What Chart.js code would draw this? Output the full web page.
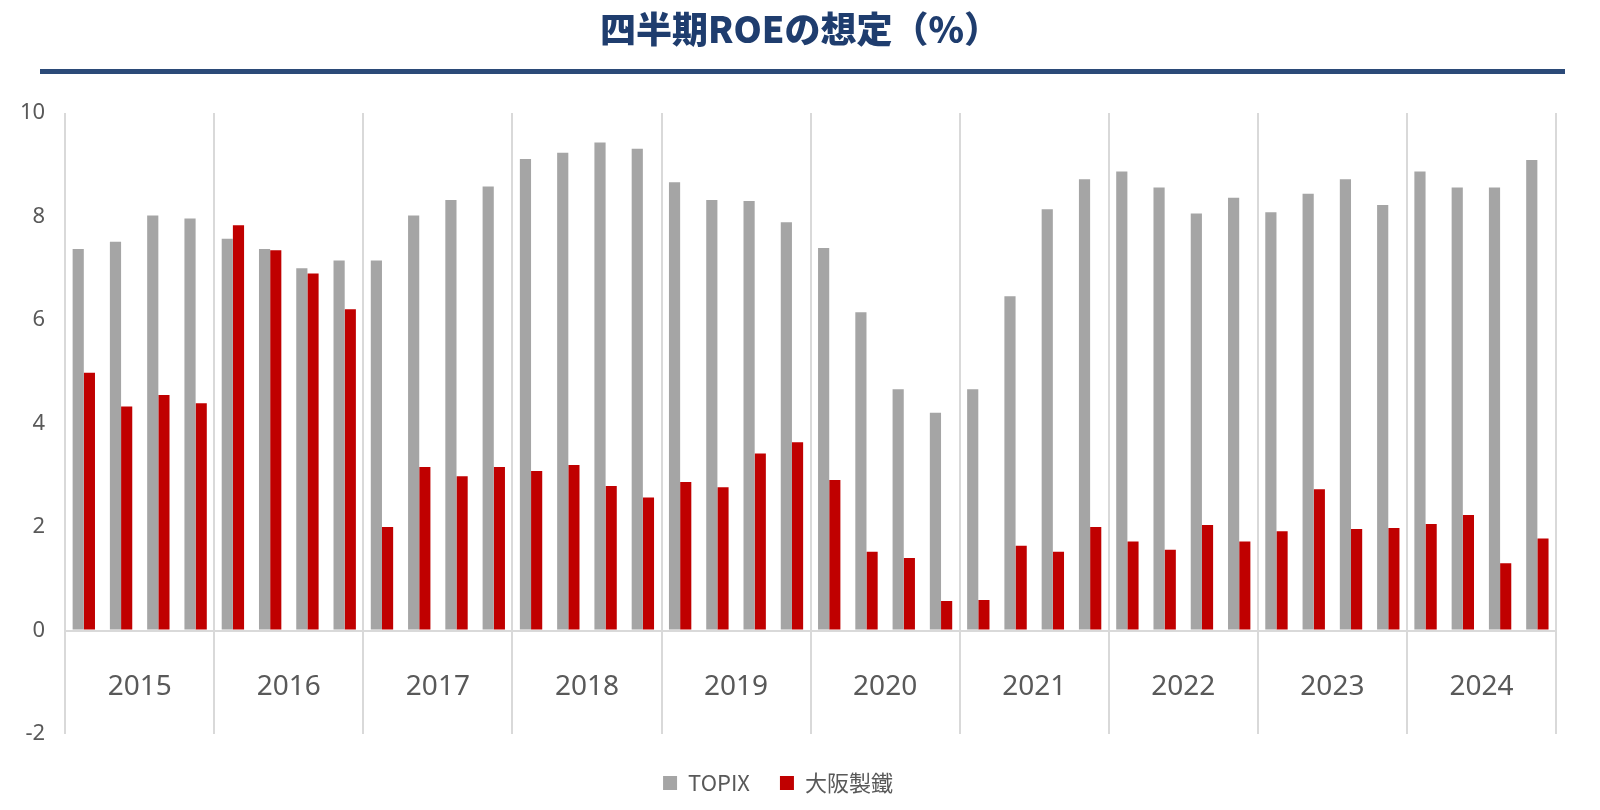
<!DOCTYPE html>
<html><head><meta charset="utf-8">
<script src="https://cdn.jsdelivr.net/npm/chart.js@4"></script>
<style>
html,body{margin:0;padding:0}
body{width:1600px;height:810px;background:#fff;font-family:"Noto Sans CJK JP","Noto Sans",sans-serif;overflow:hidden;position:relative}
#title{position:absolute;top:2px;left:0;width:1600px;text-align:center;font-size:36px;font-weight:900;color:#1F3D6E;line-height:50px}
#rule{position:absolute;top:69px;left:40px;width:1525px;height:5px;background:#2B4A78}
#c{position:absolute;top:0;left:0}
</style></head><body>
<canvas id="c" width="1600" height="810"></canvas>
<div id="title">四半期ROEの想定（%）</div>
<div id="rule"></div>
<script>
const years = ['2015','2016','2017','2018','2019','2020','2021','2022','2023','2024'];
const quarters = [];
for (const y of years) for (let q = 1; q <= 4; q++) quarters.push(y + 'Q' + q);

const topix = [
  7.37, 7.51, 8.02, 7.96,
  7.57, 7.37, 7.00, 7.15,
  7.15, 8.02, 8.32, 8.58,
  9.11, 9.23, 9.43, 9.31,
  8.66, 8.32, 8.30, 7.89,
  7.39, 6.15, 4.66, 4.21,
  4.66, 6.46, 8.14, 8.72,
  8.87, 8.56, 8.06, 8.36,
  8.08, 8.44, 8.72, 8.22,
  8.87, 8.56, 8.56, 9.09
];
const osakaSteel = [
  4.98, 4.33, 4.55, 4.39,
  7.83, 7.35, 6.90, 6.21,
  2.00, 3.16, 2.98, 3.16,
  3.08, 3.20, 2.79, 2.57,
  2.87, 2.77, 3.42, 3.64,
  2.91, 1.52, 1.40, 0.57,
  0.59, 1.64, 1.52, 2.00,
  1.72, 1.56, 2.04, 1.72,
  1.92, 2.73, 1.96, 1.98,
  2.06, 2.23, 1.30, 1.78
];

// year labels drawn inside the plot at y = -1
const yearLabels = {
  id: 'yearLabels',
  afterDatasetsDraw(chart) {
    const ctx = chart.ctx, ys = chart.scales.year, yy = chart.scales.y;
    ctx.save();
    ctx.font = '28px "Noto Sans", sans-serif';
    ctx.fillStyle = '#595959';
    ctx.textAlign = 'center';
    ctx.textBaseline = 'middle';
    years.forEach((y, i) => ctx.fillText(y, ys.getPixelForValue(i), yy.getPixelForValue(-1.1)));
    ctx.restore();
  }
};

new Chart(document.getElementById('c'), {
  type: 'bar',
  data: {
    labels: quarters,
    datasets: [
      { label: 'TOPIX', data: topix, backgroundColor: '#A5A5A5', xAxisID: 'x' },
      { label: '大阪製鐵', data: osakaSteel, backgroundColor: '#C00000', xAxisID: 'x' }
    ]
  },
  options: {
    responsive: false, animation: false, devicePixelRatio: 1,
    layout: { padding: { top: 113, right: 44, left: 0, bottom: 6 } },
    datasets: { bar: { categoryPercentage: 0.6, barPercentage: 1 } },
    plugins: {
      legend: {
        position: 'bottom',
        labels: { boxWidth: 14, boxHeight: 14, padding: 30, color: '#595959',
                  font: { size: 22, family: '"Noto Sans CJK JP", "Noto Sans", sans-serif' } }
      },
      tooltip: { enabled: false }
    },
    scales: {
      x: { display: true, grid: { display: false }, ticks: { display: false }, border: { display: false } },
      year: {
        type: 'category', labels: years, position: 'bottom', offset: true,
        grid: { offset: true, color: '#D9D9D9', lineWidth: 2, drawTicks: false },
        ticks: { display: false }, border: { display: false }
      },
      y: {
        min: -2, max: 10,
        ticks: { stepSize: 2, color: '#595959', padding: 20, font: { size: 22, family: '"Noto Sans", sans-serif' } },
        grid: { color: c => c.tick.value === 0 ? '#D9D9D9' : 'rgba(0,0,0,0)', lineWidth: 2, drawTicks: false },
        border: { display: false }
      }
    }
  },
  plugins: [yearLabels]
});
</script>
</body></html>
